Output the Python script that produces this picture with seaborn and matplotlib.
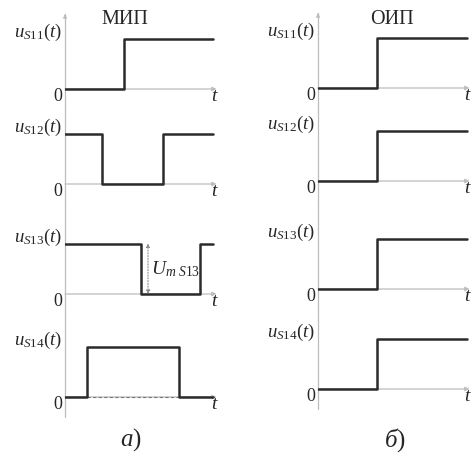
import matplotlib
matplotlib.use("Agg")
import matplotlib.pyplot as plt
import seaborn as sns
import pandas as pd

sns.set_style("white")
plt.rcParams["font.family"] = ["Liberation Serif", "DejaVu Serif"]
plt.rcParams["mathtext.fontset"] = "custom"
plt.rcParams["mathtext.rm"] = "Liberation Serif"
plt.rcParams["mathtext.it"] = "Liberation Serif:italic"

# Switching signals: time instants (breakpoints) and levels (steps-post)
t_s11 = [0, 5.9, 14.8]
u_s11 = [0, 1, 1]
t_s12 = [0, 3.7, 9.8, 14.8]
u_s12 = [1, 0, 1, 1]
t_s13 = [0, 7.6, 13.5, 14.8]
u_s13 = [1, 0, 1, 1]
t_s14 = [0, 2.2, 11.4, 14.8]
u_s14 = [0, 1, 0, 0]

t_oip = [0, 5.9, 14.9]
u_oip = [0, 1, 1]

labels = [r"$u_{S\mathrm{11}}(t)$", r"$u_{S\mathrm{12}}(t)$",
          r"$u_{S\mathrm{13}}(t)$", r"$u_{S\mathrm{14}}(t)$"]
titles = ["МИП", "ОИП"]
captions = [r"$a$)", r"$\mathit{б}$)"]

W, H = 475, 463
fig = plt.figure(figsize=(W / 100, H / 100), dpi=100)

AMP = 50.5     # pixels per unit level
TSC = 10.0     # pixels per time unit
AX_GREY = "#bdbdbd"
SIG = "#2b2b2b"


def make_axes(x0, y0):
    top, bot = y0 - 78, y0 + 25
    right = x0 + 158
    ax = fig.add_axes([x0 / W, 1 - bot / H, (right - x0) / W, (bot - top) / H])
    ax.set_xlim(0, (right - x0) / TSC)
    ax.set_ylim(-(bot - y0) / AMP, (y0 - top) / AMP)
    ax.set_axis_off()
    ax.patch.set_alpha(0)
    return ax


def draw_panel(ax, x0, y0, t, u, label, vtop, vbot, top_arrow):
    # axes lines
    yd = lambda yp: (y0 - yp) / AMP
    ax.plot([0, 0], [yd(vbot), yd(vtop)], color=AX_GREY, lw=0.9,
            clip_on=False, zorder=1)
    if top_arrow:
        ax.annotate("", xy=(0, yd(vtop)), xytext=(0, yd(vtop) - 0.1),
                    arrowprops=dict(arrowstyle="-|>", color=AX_GREY, lw=0.9,
                                    mutation_scale=5), annotation_clip=False)
    ax.annotate("", xy=(15.15, 0), xytext=(0, 0),
                arrowprops=dict(arrowstyle="-|>", color=AX_GREY, lw=0.9,
                                mutation_scale=6, shrinkA=0, shrinkB=0),
                annotation_clip=False, zorder=1)
    df = pd.DataFrame({"t": t, "u": u})
    sns.lineplot(data=df, x="t", y="u", drawstyle="steps-post", color=SIG,
                 lw=1.8, ax=ax, sort=False, estimator=None, zorder=3)
    ax.set_xlim(0, 15.8)
    ax.text(-0.3, 1.12, label, ha="right", va="center", fontsize=13.5)
    ax.text(-0.3, -0.15, "0", ha="right", va="center", fontsize=13)
    ax.text(15.0, -0.14, "$t$", ha="center", va="center", fontsize=14)


left_y0 = [89, 184, 294, 397]
right_y0 = [88, 181, 289, 389]
left_data = [(t_s11, u_s11), (t_s12, u_s12), (t_s13, u_s13), (t_s14, u_s14)]

left_axes = []
for i, (y0, (t, u)) in enumerate(zip(left_y0, left_data)):
    ax = make_axes(65, y0)
    vtop = 14 if i == 0 else left_y0[i - 1] + 20
    vbot = y0 + 20
    draw_panel(ax, 65, y0, t, u, labels[i], vtop, vbot, i == 0)
    left_axes.append(ax)

right_axes = []
for i, y0 in enumerate(right_y0):
    ax = make_axes(318, y0)
    vtop = 13 if i == 0 else right_y0[i - 1] + 20
    vbot = y0 + 20
    draw_panel(ax, 318, y0, t_oip, u_oip, labels[i], vtop, vbot, i == 0)
    right_axes.append(ax)

# titles
left_axes[0].text(6.0, 1.37, titles[0], ha="center", va="center", fontsize=14.5)
right_axes[0].text(7.4, 1.35, titles[1], ha="center", va="center", fontsize=14.5)

# amplitude marker on u_S13
ax3 = left_axes[2]
ax3.annotate("", xy=(8.3, 1.0), xytext=(8.3, 0.0),
             arrowprops=dict(arrowstyle="<|-|>", color="#8a8a8a", lw=0.8,
                             ls=(0, (1, 1.5)), mutation_scale=5,
                             shrinkA=0, shrinkB=0))
ax3.text(8.6, 0.5, r"$U_{m\ S\mathrm{13}}$", ha="left", va="center", fontsize=14)

# zero level under the pulse of u_S14
ax4 = left_axes[3]
ax4.plot([t_s14[1], t_s14[2]], [0, 0], color="#777777", lw=0.8,
         ls=(0, (3, 2)), zorder=2)

# captions
fig.text(131 / W, 1 - 440 / H, captions[0], ha="center", va="center", fontsize=18)
fig.text(395 / W, 1 - 440 / H, captions[1], ha="center", va="center", fontsize=18)

fig.savefig("out.png", dpi=100)
